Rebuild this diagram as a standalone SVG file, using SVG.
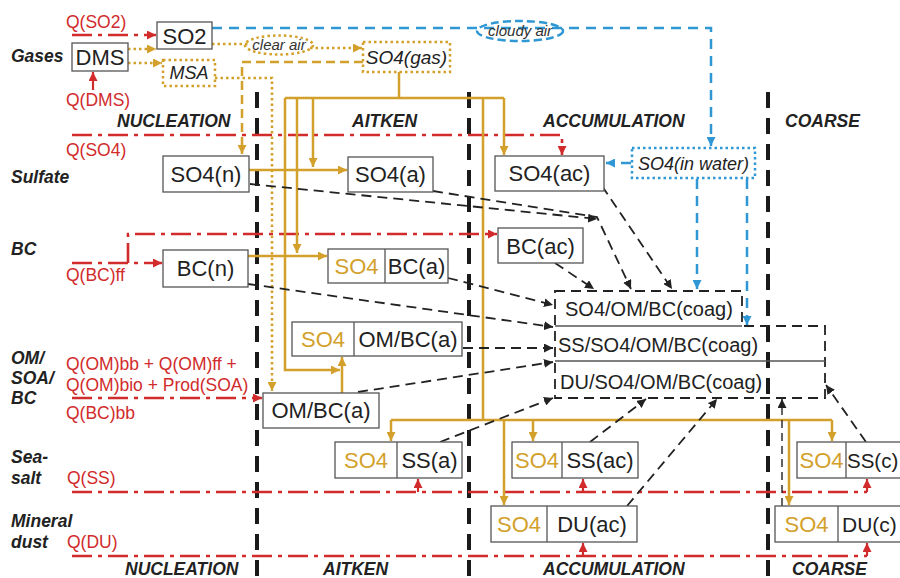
<svg xmlns="http://www.w3.org/2000/svg" width="900" height="578" viewBox="0 0 900 578">
<style>
.red{stroke:#d12b2b;stroke-width:2.6;fill:none;stroke-dasharray:20 6 4 6}
.reds{stroke:#d12b2b;stroke-width:2.2;fill:none}
.gold{stroke:#d3a12b;stroke-width:2.5;fill:none}
.gdot{stroke:#d3a12b;stroke-width:2.5;fill:none;stroke-dasharray:2.5 3}
.gdash{stroke:#d3a12b;stroke-width:2.5;fill:none;stroke-dasharray:9 5}
.blue{stroke:#2e97d4;stroke-width:2.5;fill:none;stroke-dasharray:10 7}
.bdot{stroke:#2e97d4;stroke-width:2.5;fill:none;stroke-dasharray:2.5 3}
.kd{stroke:#222;stroke-width:1.8;fill:none;stroke-dasharray:10 6}
.kdt{stroke:#222;stroke-width:1.4;fill:none;stroke-dasharray:8 5}
.col{stroke:#1a1a1a;stroke-width:4;fill:none;stroke-dasharray:16 10}
.box{fill:#fff;stroke:#555;stroke-width:1.3}
.div{stroke:#555;stroke-width:1.3}
.t{font-family:"Liberation Sans",Arial,sans-serif;font-size:22px;fill:#222}
.tm{text-anchor:middle}
.tg{fill:#d3a12b}
.it{font-style:italic}
.q{font-family:"Liberation Sans",Arial,sans-serif;font-size:17.5px;fill:#d12b2b}
.h{font-family:"Liberation Sans",Arial,sans-serif;font-size:17.5px;font-weight:bold;font-style:italic;fill:#222}
.c{font-family:"Liberation Sans",Arial,sans-serif;font-size:20px;fill:#222}
</style>
<defs>
<marker id="ar" viewBox="0 0 10 10" refX="10" refY="5" markerWidth="9" markerHeight="9" orient="auto" markerUnits="userSpaceOnUse"><path d="M0,0L10,5L0,10z" fill="#d12b2b"/></marker>
<marker id="ag" viewBox="0 0 10 10" refX="10" refY="5" markerWidth="9" markerHeight="9" orient="auto" markerUnits="userSpaceOnUse"><path d="M0,0L10,5L0,10z" fill="#d3a12b"/></marker>
<marker id="ab" viewBox="0 0 10 10" refX="10" refY="5" markerWidth="9" markerHeight="9" orient="auto" markerUnits="userSpaceOnUse"><path d="M0,0L10,5L0,10z" fill="#2e97d4"/></marker>
<marker id="ak" viewBox="0 0 10 10" refX="10" refY="5" markerWidth="9" markerHeight="9" orient="auto" markerUnits="userSpaceOnUse"><path d="M0,0L10,5L0,10z" fill="#222"/></marker>
</defs>
<rect width="900" height="578" fill="#fff"/>

<g id="labels">
<text class="h" x="11" y="62">Gases</text>
<text class="h" x="11" y="183">Sulfate</text>
<text class="h" x="11" y="255">BC</text>
<text class="h" x="11" y="364">OM/</text>
<text class="h" x="11" y="384">SOA/</text>
<text class="h" x="11" y="404">BC</text>
<text class="h" x="11" y="463">Sea-</text>
<text class="h" x="11" y="484">salt</text>
<text class="h" x="11" y="527">Mineral</text>
<text class="h" x="11" y="548">dust</text>
<text class="h" x="117" y="127">NUCLEATION</text>
<text class="h" x="352" y="127">AITKEN</text>
<text class="h" x="543" y="127">ACCUMULATION</text>
<text class="h" x="785" y="127">COARSE</text>
<text class="h" x="125" y="575">NUCLEATION</text>
<text class="h" x="323" y="575">AITKEN</text>
<text class="h" x="543" y="575">ACCUMULATION</text>
<text class="h" x="792" y="575">COARSE</text>
<text class="q" x="66" y="28">Q(SO2)</text>
<text class="q" x="66" y="106">Q(DMS)</text>
<text class="q" x="66" y="156">Q(SO4)</text>
<text class="q" x="66" y="281">Q(BC)ff</text>
<text class="q" x="66" y="370">Q(OM)bb + Q(OM)ff +</text>
<text class="q" x="66" y="391">Q(OM)bio + Prod(SOA)</text>
<text class="q" x="66" y="419">Q(BC)bb</text>
<text class="q" x="67" y="484">Q(SS)</text>
<text class="q" x="67" y="548">Q(DU)</text>
</g>

<g id="columns">
<line class="col" x1="257" y1="92" x2="257" y2="578"/>
<line class="col" x1="469" y1="92" x2="469" y2="578"/>
<line class="col" x1="768" y1="92" x2="768" y2="578"/>
</g>

<g id="connectors">
<path class="red" d="M72,35H156" marker-end="url(#ar)"/>
<path class="reds" d="M93,90V72" marker-end="url(#ar)"/>
<path class="red" d="M72,135H562V155" marker-end="url(#ar)"/>
<path class="red" d="M72,263H162" marker-end="url(#ar)"/>
<path class="red" d="M128,263V234H497" marker-end="url(#ar)"/>
<path class="red" d="M72,398H262" marker-end="url(#ar)"/>
<path class="red" d="M72,492H867"/>
<path class="reds" d="M418,492V479" marker-end="url(#ar)"/>
<path class="reds" d="M583,492V479" marker-end="url(#ar)"/>
<path class="reds" d="M867,492V479" marker-end="url(#ar)"/>
<path class="red" d="M72,556H867"/>
<path class="reds" d="M583,556V543" marker-end="url(#ar)"/>
<path class="reds" d="M867,556V543" marker-end="url(#ar)"/>
<path class="gdot" d="M128,49H156" marker-end="url(#ag)"/>
<path class="gdot" d="M128,63H162" marker-end="url(#ag)"/>
<path class="gdot" d="M212,44H250"/>
<path class="gdot" d="M310,48H362" marker-end="url(#ag)"/>
<path class="gdot" d="M215,78H272V391" marker-end="url(#ag)"/>
<path class="gdash" d="M363,62H242V154" marker-end="url(#ag)"/>
<path class="gold" d="M399,72V98"/>
<path class="gold" d="M285,98H504"/>
<path class="gold" d="M313,98V167" marker-end="url(#ag)"/>
<path class="gold" d="M297,98V253" marker-end="url(#ag)"/>
<path class="gold" d="M285,98V370H340" marker-end="url(#ag)"/>
<path class="gold" d="M483,98V420"/>
<path class="gold" d="M504,98V155" marker-end="url(#ag)"/>
<path class="gold" d="M391,420H832"/>
<path class="gold" d="M391,420V441" marker-end="url(#ag)"/>
<path class="gold" d="M504,420V505" marker-end="url(#ag)"/>
<path class="gold" d="M533,420V441" marker-end="url(#ag)"/>
<path class="gold" d="M789,420V505" marker-end="url(#ag)"/>
<path class="gold" d="M832,420V441" marker-end="url(#ag)"/>
<path class="gold" d="M249,170H347" marker-end="url(#ag)"/>
<path class="gold" d="M248,256H327" marker-end="url(#ag)"/>
<path class="gold" d="M342,393V357" marker-end="url(#ag)"/>
<path class="blue" d="M212,28H711V146" marker-end="url(#ab)"/>
<path class="blue" d="M631,163H606" marker-end="url(#ab)"/>
<path class="blue" d="M697,179V289" marker-end="url(#ab)"/>
<path class="blue" d="M747,179V325" marker-end="url(#ab)"/>
<path class="kd" d="M250,184L597,219" marker-end="url(#ak)"/>
<path class="kd" d="M433,191L597,217L631,289" marker-end="url(#ak)"/>
<path class="kd" d="M602,186L672,289" marker-end="url(#ak)"/>
<path class="kd" d="M555,263L594,289" marker-end="url(#ak)"/>
<path class="kd" d="M448,278L553,305" marker-end="url(#ak)"/>
<path class="kd" d="M248,284L553,327" marker-end="url(#ak)"/>
<path class="kd" d="M463,348H553" marker-end="url(#ak)"/>
<path class="kd" d="M358,392L553,362" marker-end="url(#ak)"/>
<path class="kd" d="M440,442L553,398" marker-end="url(#ak)"/>
<path class="kd" d="M590,442L646,399" marker-end="url(#ak)"/>
<path class="kd" d="M627,506L717,399" marker-end="url(#ak)"/>
<path class="kdt" d="M782,506V399" marker-end="url(#ak)"/>
<path class="kd" d="M866,442L826,385" marker-end="url(#ak)"/>
</g>

<g id="DMS"><rect class="box" x="72" y="43" width="56" height="28"/><text class="t tm" x="100" y="65">DMS</text></g>
<g id="SO2"><rect class="box" x="157" y="22" width="55" height="27"/><text class="t tm" x="184.5" y="44">SO2</text></g>
<g id="MSA"><rect x="163" y="60" width="52" height="26" fill="#fff" class="gdot"/><text class="t tm it" style="font-size:18px" x="189" y="79">MSA</text></g>
<g id="clear-air"><ellipse cx="279" cy="45" rx="34" ry="9.5" fill="#fff" class="gdot"/><text class="t tm it" style="font-size:15px;fill:#333" x="279" y="50">clear air</text></g>
<g id="SO4gas"><rect x="363" y="42" width="87" height="30" fill="#fff" class="gdot"/><text class="t tm it" style="font-size:19px" x="406.5" y="64">SO4(gas)</text></g>
<g id="cloudy-air"><ellipse cx="520" cy="31" rx="43" ry="10" fill="#fff" class="blue" style="stroke-dasharray:8 4"/><text class="t tm it" style="font-size:15px;fill:#333" x="520" y="36">cloudy air</text></g>
<g id="SO4water"><rect x="632" y="148" width="123" height="30" fill="#fff" class="bdot"/><text class="t tm it" style="font-size:18px" x="693.5" y="170">SO4(in water)</text></g>

<g id="SO4n"><rect class="box" x="163" y="156" width="86" height="36"/><text class="t tm" x="206" y="182">SO4(n)</text></g>
<g id="SO4a"><rect class="box" x="348" y="157" width="85" height="35"/><text class="t tm" x="390.5" y="182">SO4(a)</text></g>
<g id="SO4ac"><rect class="box" x="495" y="156" width="109" height="35"/><text class="t tm" x="549.5" y="181">SO4(ac)</text></g>
<g id="BCn"><rect class="box" x="163" y="250" width="85" height="37"/><text class="t tm" x="205.5" y="276">BC(n)</text></g>
<g id="BCa"><rect class="box" x="328" y="249" width="120" height="34"/><line class="div" x1="385" y1="249" x2="385" y2="283"/><text class="t tm tg" x="356.5" y="274">SO4</text><text class="t tm" x="416.5" y="274">BC(a)</text></g>
<g id="BCac"><rect class="box" x="498" y="228" width="85" height="35"/><text class="t tm" x="540.5" y="254">BC(ac)</text></g>
<g id="OMBCa-coated"><rect class="box" x="292" y="322" width="170" height="34"/><line class="div" x1="354" y1="322" x2="354" y2="356"/><text class="t tm tg" x="323" y="347">SO4</text><text class="t tm" x="408" y="347">OM/BC(a)</text></g>
<g id="OMBCa"><rect class="box" x="263" y="393" width="116" height="35"/><text class="t tm" x="321" y="418">OM/BC(a)</text></g>
<g id="SSa"><rect class="box" x="335" y="442" width="127" height="36"/><line class="div" x1="397" y1="442" x2="397" y2="478"/><text class="t tm tg" x="366" y="468">SO4</text><text class="t tm" x="429.5" y="468">SS(a)</text></g>
<g id="SSac"><rect class="box" x="512" y="442" width="126" height="36"/><line class="div" x1="562" y1="442" x2="562" y2="478"/><text class="t tm tg" x="537" y="468">SO4</text><text class="t tm" x="600" y="468">SS(ac)</text></g>
<g id="SSc"><rect class="box" x="797" y="442" width="110" height="36"/><line class="div" x1="846" y1="442" x2="846" y2="478"/><text class="t tm tg" x="821.5" y="468">SO4</text><text class="t" style="font-size:20.5px" x="847" y="468">SS(c)</text></g>
<g id="DUac"><rect class="box" x="491" y="506" width="146" height="36"/><line class="div" x1="547" y1="506" x2="547" y2="542"/><text class="t tm tg" x="519" y="532">SO4</text><text class="t tm" x="592" y="532">DU(ac)</text></g>
<g id="DUc"><rect class="box" x="775" y="506" width="130" height="36"/><line class="div" x1="838" y1="506" x2="838" y2="542"/><text class="t tm tg" x="806.5" y="532">SO4</text><text class="t" style="font-size:21px" x="842" y="532">DU(c)</text></g>

<g id="coag">
<path d="M555,291H742V326H825V398H555Z" fill="none" stroke="#222" stroke-width="1.8" stroke-dasharray="10 6"/>
<line class="div" x1="555" y1="326" x2="742" y2="326"/>
<line class="div" x1="555" y1="361" x2="825" y2="361"/>
<text class="c" x="565" y="316">SO4/OM/BC(coag)</text>
<text class="c" x="558" y="352">SS/SO4/OM/BC(coag)</text>
<text class="c" x="560" y="389">DU/SO4/OM/BC(coag)</text>
</g>
</svg>
